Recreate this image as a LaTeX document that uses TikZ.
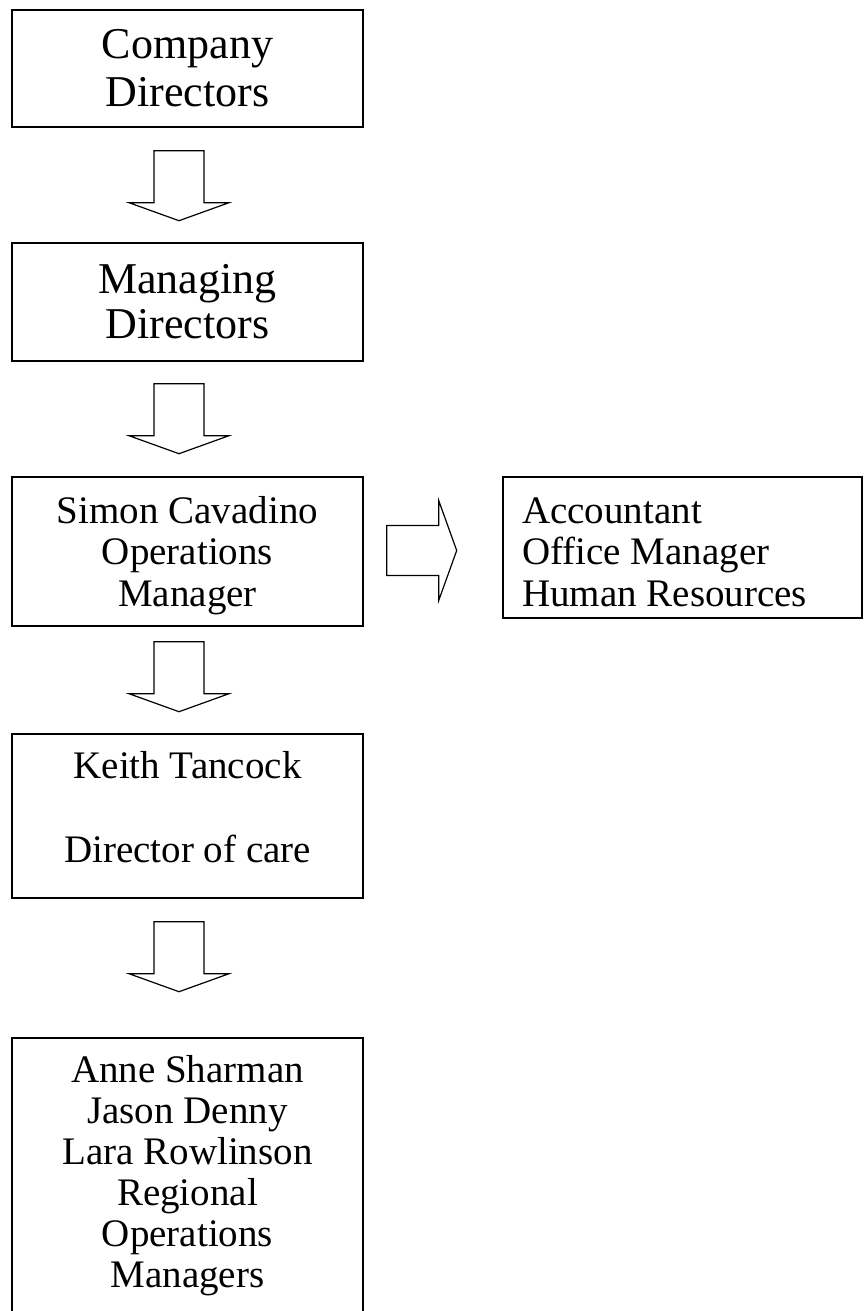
\documentclass[tikz,border=0pt]{standalone}
\usepackage{fontspec}
\setmainfont{Liberation Serif}
\usetikzlibrary{calc}
\begin{document}
\begin{tikzpicture}[x=1pt,y=-1pt,
  box/.style={draw, rectangle, line width=1.4pt, inner sep=0pt},
  bigtxt/.style={font=\fontsize{44}{46.5}\selectfont, align=center, anchor=base, inner sep=0pt},
  smalltxt/.style={font=\fontsize{39}{41.5}\selectfont, align=center, anchor=base, inner sep=0pt},
  lefttxt/.style={font=\fontsize{39}{41.5}\selectfont, align=left, anchor=base west, inner sep=0pt},
  blockarrow/.style={draw, line width=1.2pt, line join=miter},
  darrow/.pic={\draw[blockarrow] (-25,0) -- (25,0) -- (25,52) -- (50,52) -- (0,70) -- (-50,52) -- (-25,52) -- cycle;}
]
\useasboundingbox (0,0) rectangle (867,1311);
\clip (0,0) rectangle (867,1311);

% boxes
\node[box, minimum width=351pt, minimum height=117pt] (cd) at (187.5,68.5) {};
\node[box, minimum width=351pt, minimum height=118pt] (md) at (187.5,302) {};
\node[box, minimum width=351pt, minimum height=149pt] (om) at (187.5,551.5) {};
\node[box, minimum width=359pt, minimum height=141pt] (acc) at (682.5,547.5) {};
\node[box, minimum width=351pt, minimum height=164pt] (dc) at (187.5,816) {};
\node[box, minimum width=351pt, minimum height=300pt] (rom) at (187.5,1188) {};

% texts (anchor base = last line's baseline)
\node[bigtxt, font=\fontsize{44}{48}\selectfont] (cdt) at (187.5,107) {Company\\Directors};
\node[bigtxt, font=\fontsize{44}{45}\selectfont] (mdt) at (187.5,338) {Managing\\Directors};
\node[smalltxt] (omt) at (187.5,606) {Simon Cavadino\\Operations\\Manager};
\node[lefttxt] (acct) at (522,606) {Accountant\\Office Manager\\Human Resources};
\node[smalltxt] (dct) at (187.5,862) {Keith Tancock\\[42pt]Director of care};
\node[smalltxt, font=\fontsize{39}{41}\selectfont] (romt) at (187.5,1287) {Anne Sharman\\Jason Denny\\Lara Rowlinson\\Regional\\Operations\\Managers};

% block arrows
\pic at ($(cd.south)+(-8.5,23)$) {darrow};
\pic at ($(md.south)+(-8.5,22)$) {darrow};
\pic at ($(om.south)+(-8.5,15)$) {darrow};
\pic at ($(dc.south)+(-8.5,23)$) {darrow};
\pic[rotate=90] at ($(om.east)+(23,-1)$) {darrow};
\end{tikzpicture}
\end{document}
